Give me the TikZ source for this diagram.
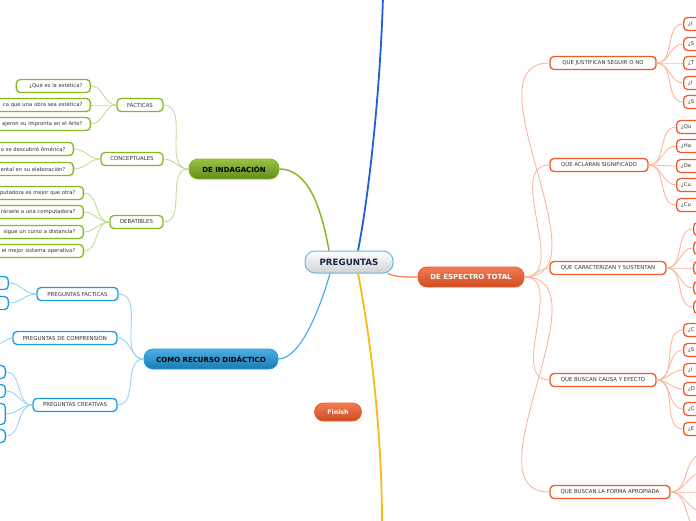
\documentclass[tikz,border=0pt]{standalone}
\usepackage{fontspec}
\setmainfont{DejaVu Sans}
\usetikzlibrary{calc}
\definecolor{gB}{HTML}{84B922}
\definecolor{gL}{HTML}{BFDE96}
\definecolor{bB}{HTML}{1E9BE0}
\definecolor{bL}{HTML}{96D4F4}
\definecolor{oB}{HTML}{F05A28}
\definecolor{oL}{HTML}{F9B79E}
\definecolor{dkB}{HTML}{1C62D6}
\definecolor{yl}{HTML}{FBB918}
\definecolor{txt}{HTML}{333333}
\begin{document}
\begin{tikzpicture}[x=1pt,y=-1pt,
  box/.style={fill=white,line width=1.3pt,rounded corners=4pt,minimum height=13pt,inner sep=0pt,
    font=\fontsize{5.4}{6}\selectfont,text=txt},
  gbox/.style={box,draw=gB},
  bbox/.style={box,draw=bB},
  obox/.style={box,draw=oB},
  gleaf/.style={gbox,anchor=east,text width=#1,align=right,inner xsep=8pt,font=\fontsize{5.25}{6}\selectfont},
  bleaf/.style={bbox,anchor=east,minimum width=30pt},
  oleaf/.style={obox,anchor=west,text width=40pt,align=left,inner xsep=4.5pt,font=\fontsize{5.25}{6}\selectfont},
  mainbox/.style={rounded corners=9pt,minimum height=20pt,inner sep=0pt,line width=0.8pt,
    font=\bfseries\fontsize{7}{8}\selectfont},
  gl/.style={draw=gL,line width=0.9pt},
  bl/.style={draw=bL,line width=0.9pt},
  ol/.style={draw=oL,line width=0.9pt}]
\useasboundingbox (0,0) rectangle (696,520);
\clip (0,0) rectangle (696,520);

% central
\node[rounded corners=10pt,minimum width=88pt,minimum height=22pt,inner sep=0pt,line width=1pt,
  draw=bB!70,top color=white,bottom color=black!18,text={rgb,255:red,22;green,37;blue,74},
  font=\bfseries\fontsize{8.7}{9}\selectfont] (preg) at (349,262) {PREGUNTAS};

\node[mainbox,minimum width=90pt,draw=gB,top color=gB!85!white,bottom color=gB!75!black,text=black] (indag) at (234,169) {DE INDAGACIÓN};
\node[mainbox,minimum width=134pt,draw=bB,top color=bB!80!white,bottom color=bB!80!black,text=black] (recur) at (211,359) {COMO RECURSO DIDÁCTICO};
\node[mainbox,minimum width=106pt,draw=oB,top color=oB!80!white,bottom color=oB!85!black,text=white] (espec) at (471,277) {DE ESPECTRO TOTAL};
\node[mainbox,minimum width=47pt,minimum height=18pt,draw=oB,top color=oB!80!white,bottom color=oB!85!black,text=white,font=\bfseries\fontsize{6.3}{7}\selectfont] (fin) at (338,412) {Finish};

% main connectors
\coordinate (topend) at (383,-3);
\coordinate (botend) at (382,523);
\draw[dkB,line width=1.8pt] ($(preg.north)+(9,0)$) .. controls +(10,-50) and +(-3,100) .. (topend);
\draw[yl,line width=1.8pt] ($(preg.south)+(9,0)$) .. controls +(10,50) and +(0,-100) .. (botend);
\draw[gB,line width=1.5pt] ($(preg.north)+(-20,0)$) .. controls +(-8,-45) and +(28,0) .. (indag.east);
\draw[bB!80,line width=1.2pt] ($(preg.south)+(-19,0)$) .. controls +(-10,35) and +(22,0) .. (recur.east);
\draw[oB!80,line width=1.2pt] ($(preg.south east)+(-6,0)$) .. controls +(10,4) and +(-12,0) .. (espec.west);

% green branch
\node[gbox,minimum width=46pt] (fact) at (140,105) {FÁCTICAS};
\node[gbox,minimum width=62pt] (conc) at (132,159) {CONCEPTUALES};
\node[gbox,minimum width=53pt] (deb) at (136.5,222) {DEBATIBLES};
\foreach \n in {fact,conc,deb} \draw[gl] (indag.west) to[out=180,in=0] (\n.east);

\node[gleaf=58pt] (g1) at (91,86) {¿Qué es la estética?};
\node[gleaf=120pt] (g2) at (91,105) {ca que una obra sea estética?};
\node[gleaf=120pt] (g3) at (91,124) {ajeron su impronta en el Arte?};
\node[gleaf=110pt] (g4) at (74,149) {o se descubrió América?};
\node[gleaf=110pt] (g5) at (74,169) {ental en su elaboración?};
\node[gleaf=110pt] (g6) at (84,193) {putadora es mejor que otra?};
\node[gleaf=110pt] (g7) at (84,212) {rársele a una computadora?};
\node[gleaf=110pt] (g8) at (84,232) {sigue un curso a distancia?};
\node[gleaf=110pt] (g9) at (84,251) {el mejor sistema operativo?};
\foreach \n in {g1,g2,g3} \draw[gl] (fact.west) to[out=180,in=0] (\n.east);
\foreach \n in {g4,g5} \draw[gl] (conc.west) to[out=180,in=0] (\n.east);
\foreach \n in {g6,g7,g8,g9} \draw[gl] (deb.west) to[out=180,in=0] (\n.east);

% blue branch
\node[bbox,minimum width=81pt] (pf) at (77.5,294) {PREGUNTAS FÁCTICAS};
\node[bbox,minimum width=104pt] (pc) at (65,338) {PREGUNTAS DE COMPRENSIÓN};
\node[bbox,minimum width=84pt] (pcr) at (75,405) {PREGUNTAS CREATIVAS};
\foreach \n in {pf,pc,pcr} \draw[bl] (recur.west) to[out=180,in=0] (\n.east);

\node[bleaf] (b1) at (9,283) {};
\node[bleaf] (b2) at (9,303) {};
\node[bleaf] (b3) at (-3,344) {};
\node[bleaf] (b4) at (6,372) {};
\node[bleaf] (b5) at (6,391) {};
\node[bleaf,minimum height=21pt] (b6) at (6,414) {};
\node[bleaf] (b7) at (6,436) {};
\foreach \n in {b1,b2} \draw[bl] (pf.west) to[out=180,in=0] (\n.east);
\draw[bl] (pc.west) to[out=180,in=0] (b3.east);
\foreach \n in {b4,b5,b6,b7} \draw[bl] (pcr.west) to[out=180,in=0] (\n.east);

% orange branch
\node[obox,minimum width=106pt] (c1) at (603,63) {QUE JUSTIFICAN SEGUIR O NO};
\node[obox,minimum width=98pt] (c2) at (599,165) {QUE ACLARAN SIGNIFICADO};
\node[obox,minimum width=116pt] (c3) at (608,268) {QUE CARACTERIZAN Y SUSTENTAN};
\node[obox,minimum width=106pt] (c4) at (603,380) {QUE BUSCAN CAUSA Y EFECTO};
\node[obox,minimum width=120pt] (c5) at (610,492) {QUE BUSCAN LA FORMA APROPIADA};
\foreach \n in {c1,c2,c3,c4,c5} \draw[ol] (espec.east) to[out=0,in=180] (\n.west);

% group 1
\foreach \t/\y [count=\i] in {¿I/24,¿S/44,¿T/63,¿I/83,¿S/102}
  {\node[oleaf] (o1\i) at (683,\y) {\t}; \draw[ol] (c1.east) to[out=0,in=180] (o1\i.west);}
% group 2
\foreach \t/\y [count=\i] in {¿Qu/127,¿Ha/146,¿De/166,¿Cu/185,¿Cu/205}
  {\node[oleaf] (o2\i) at (676,\y) {\t}; \draw[ol] (c2.east) to[out=0,in=180] (o2\i.west);}
% group 3
\foreach \y [count=\i] in {229,248,268,288,307}
  {\node[oleaf] (o3\i) at (693,\y) {}; \draw[ol] (c3.east) to[out=0,in=180] (o3\i.west);}
% group 4
\foreach \t/\y [count=\i] in {¿C/330,¿S/350,¿I/370,¿D/389,¿C/409,¿E/429}
  {\node[oleaf] (o4\i) at (683,\y) {\t}; \draw[ol] (c4.east) to[out=0,in=180] (o4\i.west);}
% group 5 (leaves beyond the right edge)
\foreach \y [count=\i] in {455,473,492,511,530}
  {\coordinate (o5\i) at (702,\y); \draw[ol] (c5.east) to[out=0,in=180] (o5\i);}
\end{tikzpicture}
\end{document}
